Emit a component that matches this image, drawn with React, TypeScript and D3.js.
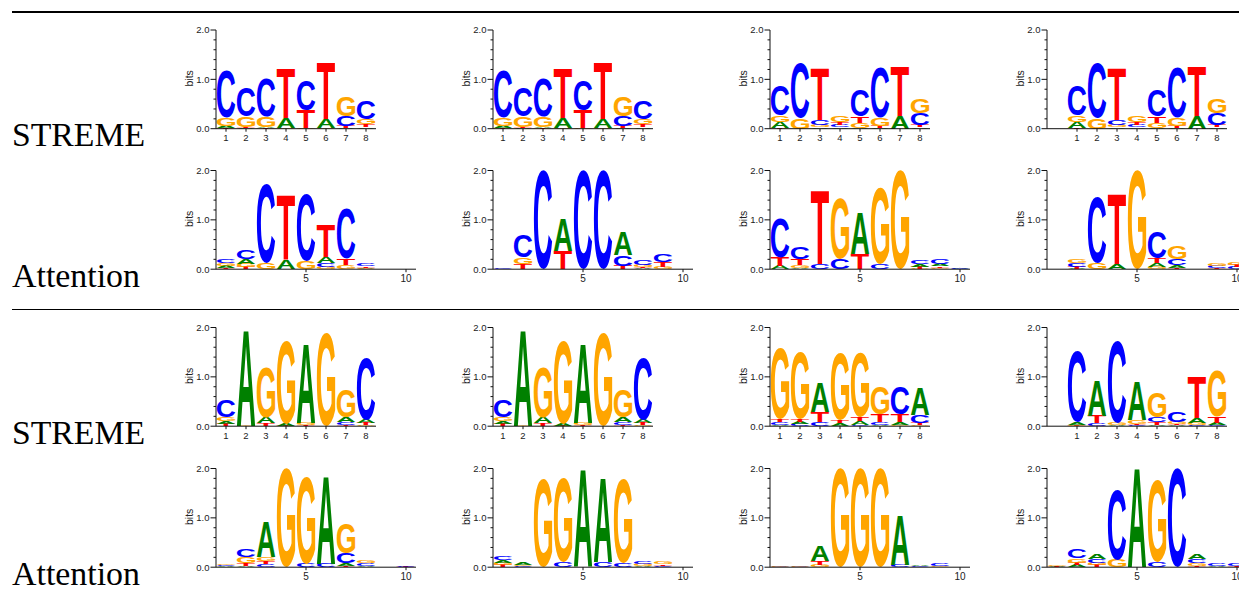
import React, { useMemo } from 'react';
import * as d3 from 'd3';

// Nucleotide order in every row: [A, C, G, T] (bits)
const BASES = ['A', 'C', 'G', 'T'];
const BASE_COLORS = ['#008000', '#0000ff', '#ffa500', '#ff0000'];

const Y_MAJOR = [0, 1, 2];
const Y_MAJOR_LABELS = ['0.0', '1.0', '2.0'];
const Y_MINOR = [0.2, 0.4, 0.6, 0.8, 1.2, 1.4, 1.6, 1.8];
const STREME_TICKS = [1, 2, 3, 4, 5, 6, 7, 8];
const ATTN_TICKS = [5, 10];
const ROW_LABELS = ['STREME', 'Attention', 'STREME', 'Attention'];

// STREME motif 1 (CcCTCTGC)
const streme1 = [
  [0.04, 0.97, 0.17, 0.01],
  [0.01, 0.58, 0.22, 0.02],
  [0.02, 0.77, 0.22, 0.01],
  [0.2, 0.0, 0.02, 0.99],
  [0.0, 0.61, 0.02, 0.36],
  [0.19, 0.0, 0.01, 1.16],
  [0.02, 0.2, 0.41, 0.04],
  [0.03, 0.37, 0.11, 0.06],
];
// STREME motif 2 (cCT.cCTG)
const streme2 = [
  [0.12, 0.6, 0.14, 0.01],
  [0.0, 1.13, 0.22, 0.0],
  [0.03, 0.1, 0.05, 1.04],
  [0.03, 0.04, 0.13, 0.06],
  [0.02, 0.52, 0.1, 0.12],
  [0.01, 1.0, 0.17, 0.05],
  [0.26, 0.0, 0.0, 0.99],
  [0.03, 0.24, 0.29, 0.05],
];
// STREME motif 3 (cAGGAGgC)
const streme3 = [
  [0.06, 0.34, 0.08, 0.04],
  [1.95, 0.0, 0.01, 0.0],
  [0.12, 0.0, 1.01, 0.06],
  [0.04, 0.0, 1.69, 0.01],
  [1.6, 0.0, 0.05, 0.02],
  [0.0, 0.0, 1.9, 0.0],
  [0.1, 0.05, 0.55, 0.03],
  [0.07, 1.26, 0.02, 0.04],
];
// STREME motif 4 (GGaGGgCA)
const streme4 = [
  [0.03, 0.06, 1.45, 0.06],
  [0.05, 0.04, 1.35, 0.06],
  [0.6, 0.08, 0.0, 0.2],
  [0.06, 0.0, 1.35, 0.06],
  [0.08, 0.02, 1.3, 0.08],
  [0.03, 0.05, 0.55, 0.15],
  [0.05, 0.55, 0.03, 0.15],
  [0.55, 0.15, 0.02, 0.05],
];
// STREME motif 5 (CACAGcTG)
const streme5 = [
  [0.05, 1.45, 0.02, 0.01],
  [0.72, 0.05, 0.01, 0.15],
  [0.02, 1.65, 0.05, 0.0],
  [0.8, 0.02, 0.08, 0.02],
  [0.03, 0.1, 0.5, 0.05],
  [0.02, 0.22, 0.05, 0.02],
  [0.1, 0.02, 0.05, 0.83],
  [0.05, 0.02, 0.93, 0.12],
];
// Attention motifs (10 positions)
const attn1 = [
  [0.04, 0.08, 0.05, 0.03],
  [0.09, 0.19, 0.07, 0.04],
  [0.0, 1.6, 0.12, 0.0],
  [0.19, 0.0, 0.0, 1.32],
  [0.0, 1.37, 0.16, 0.0],
  [0.13, 0.07, 0.05, 0.66],
  [0.0, 1.02, 0.09, 0.12],
  [0.01, 0.04, 0.02, 0.03],
  [0, 0, 0, 0],
  [0, 0, 0, 0],
];
const attn2 = [
  [0.0, 0.02, 0.0, 0.0],
  [0.0, 0.44, 0.14, 0.1],
  [0.0, 1.99, 0.0, 0.0],
  [0.66, 0.0, 0.0, 0.37],
  [0.0, 1.99, 0.0, 0.0],
  [0.0, 1.99, 0.0, 0.0],
  [0.46, 0.22, 0.0, 0.07],
  [0.02, 0.1, 0.05, 0.02],
  [0.0, 0.15, 0.05, 0.1],
  [0, 0, 0, 0],
];
const attn3 = [
  [0.07, 0.8, 0.0, 0.17],
  [0.03, 0.25, 0.05, 0.13],
  [0.0, 0.1, 0.0, 1.5],
  [0.0, 0.2, 1.22, 0.0],
  [0.83, 0.0, 0.0, 0.3],
  [0.0, 0.1, 1.56, 0.0],
  [0.0, 0.0, 1.99, 0.0],
  [0.05, 0.07, 0.01, 0.04],
  [0.05, 0.1, 0.03, 0.03],
  [0.01, 0.01, 0.0, 0.0],
];
const attn4 = [
  [0, 0, 0, 0],
  [0.01, 0.07, 0.08, 0.04],
  [0.0, 1.32, 0.13, 0.0],
  [0.1, 0.0, 0.0, 1.43],
  [0.0, 0.0, 1.99, 0.0],
  [0.07, 0.54, 0.05, 0.09],
  [0.05, 0.12, 0.27, 0.03],
  [0, 0, 0, 0],
  [0.0, 0.04, 0.05, 0.02],
  [0.0, 0.04, 0.05, 0.04],
];
const attn5 = [
  [0.02, 0.02, 0.02, 0.0],
  [0.02, 0.15, 0.13, 0.06],
  [0.71, 0.06, 0.09, 0.06],
  [0.0, 0.0, 1.99, 0.0],
  [0.0, 0.07, 1.76, 0.0],
  [1.78, 0.07, 0.0, 0.0],
  [0.05, 0.2, 0.6, 0.03],
  [0.03, 0.05, 0.05, 0.0],
  [0, 0, 0, 0],
  [0.0, 0.02, 0.0, 0.01],
];
const attn6 = [
  [0.06, 0.08, 0.05, 0.04],
  [0.05, 0.02, 0.03, 0.0],
  [0.0, 0.0, 1.8, 0.0],
  [0.0, 0.1, 1.72, 0.0],
  [1.98, 0.0, 0.0, 0.0],
  [1.72, 0.1, 0.0, 0.0],
  [0.0, 0.08, 1.72, 0.0],
  [0.02, 0.06, 0.05, 0.0],
  [0.0, 0.03, 0.05, 0.03],
  [0, 0, 0, 0],
];
const attn7 = [
  [0.0, 0.01, 0.02, 0.0],
  [0.0, 0.01, 0.01, 0.0],
  [0.3, 0.0, 0.05, 0.08],
  [0.0, 0.0, 1.99, 0.0],
  [0.0, 0.0, 1.99, 0.0],
  [0.0, 0.0, 1.99, 0.0],
  [1.0, 0.05, 0.0, 0.0],
  [0.03, 0.02, 0.0, 0.0],
  [0.0, 0.04, 0.02, 0.0],
  [0, 0, 0, 0],
];
const attn8 = [
  [0.02, 0.0, 0.02, 0.01],
  [0.04, 0.19, 0.09, 0.05],
  [0.09, 0.07, 0.05, 0.04],
  [0.0, 1.41, 0.15, 0.0],
  [1.99, 0.0, 0.0, 0.0],
  [0.0, 0.1, 1.66, 0.0],
  [0.0, 1.99, 0.0, 0.0],
  [0.1, 0.09, 0.05, 0.03],
  [0.02, 0.05, 0.0, 0.0],
  [0.0, 0.04, 0.0, 0.02],
];

const GRID = [
  [streme1, streme1, streme2, streme2],
  [attn1, attn2, attn3, attn4],
  [streme3, streme3, streme4, streme5],
  [attn5, attn6, attn7, attn8],
];

// layout
const COL_AXIS_X = [216, 493, 770, 1047];
const ROW_TOP = [30, 170.5, 327.5, 468.5];
const PLOT_H = 98.7;
const STEP = 20;
const LABEL_BASELINE = [146, 287, 443.5, 584.5];
const LETTER_FONT = '"Liberation Sans", Arial, Helvetica, sans-serif';
const AXIS_FONT = '"Liberation Sans", Arial, Helvetica, sans-serif';

type Metric = { left: number; right: number; top: number; bottom: number };

function measureGlyphs(): Record<string, Metric> {
  const fallback: Record<string, Metric> = {
    A: { left: 0, right: 72, top: -72, bottom: 0 },
    C: { left: 4, right: 67, top: -73, bottom: 1 },
    G: { left: 4, right: 73, top: -73, bottom: 1 },
    T: { left: 2, right: 59, top: -72, bottom: 0 },
  };
  try {
    const ctx = document.createElement('canvas').getContext('2d');
    if (!ctx) return fallback;
    ctx.font = `bold 100px ${LETTER_FONT}`;
    const out: Record<string, Metric> = {};
    for (const b of BASES) {
      const t = ctx.measureText(b);
      const m = {
        left: -t.actualBoundingBoxLeft,
        right: t.actualBoundingBoxRight,
        top: -t.actualBoundingBoxAscent,
        bottom: t.actualBoundingBoxDescent,
      };
      if (!(m.right - m.left > 1) || !(m.bottom - m.top > 1)) return fallback;
      out[b] = m;
    }
    return out;
  } catch (e) {
    return fallback;
  }
}

function Logo({ data, ax, top, isStreme, shifted, glyphs }: any) {
  const domain = isStreme ? (shifted ? [-0.5, 8.5] : [0.5, 8.5]) : [0.5, 10.5];
  const x = d3.scaleLinear().domain(domain).range([ax, ax + (domain[1] - domain[0]) * STEP]);
  const y = d3.scaleLinear().domain([0, 2]).range([top + PLOT_H, top]);
  const ticks = isStreme ? STREME_TICKS : ATTN_TICKS;
  const lw = STEP * 0.92;
  const letters: any[] = [];
  data.forEach((row: number[], i: number) => {
    const pos = i + 1;
    const items = row
      .map((h, k) => ({ h, k }))
      .filter((d) => d.h > 0)
      .sort((a, b) => a.h - b.h);
    let acc = 0;
    items.forEach((d) => {
      const y0 = y(acc + d.h);
      const y1 = y(acc);
      acc += d.h;
      const g = glyphs[BASES[d.k]];
      const sx = lw / (g.right - g.left);
      const sy = (y1 - y0) / (g.bottom - g.top);
      letters.push(
        <text
          key={`${pos}-${d.k}`}
          x={0}
          y={0}
          fontSize={100}
          fontWeight="bold"
          fontFamily={LETTER_FONT}
          fill={BASE_COLORS[d.k]}
          transform={`translate(${x(pos) - lw / 2},${y0}) scale(${sx},${sy}) translate(${-g.left},${-g.top})`}
        >
          {BASES[d.k]}
        </text>
      );
    });
  });
  const y0 = y(0);
  return (
    <g>
      {letters}
      {/* y axis */}
      <line x1={ax} x2={ax} y1={y(0)} y2={y(2)} stroke="#111" strokeWidth={1} />
      {Y_MAJOR.map((v, i) => (
        <g key={'M' + v}>
          <line x1={ax - 5.5} x2={ax} y1={y(v)} y2={y(v)} stroke="#111" strokeWidth={1} />
          <text x={ax - 6.5} y={y(v)} dy="0.36em" textAnchor="end" fontSize={9.5} fontFamily={AXIS_FONT} fill="#222">
            {Y_MAJOR_LABELS[i]}
          </text>
        </g>
      ))}
      {Y_MINOR.map((v) => (
        <line key={'m' + v} x1={ax - 2.5} x2={ax} y1={y(v)} y2={y(v)} stroke="#111" strokeWidth={1} />
      ))}
      <text
        transform={`translate(${ax - 23.5},${y(1) - 1}) rotate(-90)`}
        textAnchor="middle"
        fontSize={10.5}
        fontFamily={AXIS_FONT}
        fill="#222"
      >
        bits
      </text>
      {/* x axis */}
      <line x1={ax} x2={x.range()[1]} y1={y0} y2={y0} stroke="#111" strokeWidth={1} />
      {ticks.map((t) => (
        <g key={'x' + t}>
          <line x1={x(t)} x2={x(t)} y1={y0} y2={y0 + 3} stroke="#111" strokeWidth={1} />
          <text x={x(t)} y={y0 + (isStreme ? 12.3 : 13.2)} textAnchor="middle" fontSize={isStreme ? 9.5 : 10} fontFamily={AXIS_FONT} fill="#222">
            {t}
          </text>
        </g>
      ))}
    </g>
  );
}

export default function App() {
  const glyphs = useMemo(() => measureGlyphs(), []);
  return (
    <svg
      width={1239}
      height={600}
      style={{ position: 'absolute', left: 0, top: 0, background: '#fff' }}
    >
      <rect x={0} y={0} width={1239} height={600} fill="#fff" />
      <line x1={12} x2={1239} y1={12} y2={12} stroke="#000" strokeWidth={2} />
      <line x1={12} x2={1239} y1={309.5} y2={309.5} stroke="#000" strokeWidth={1} />
      {ROW_LABELS.map((lab, r) => (
        <text
          key={'lab' + r}
          x={12}
          y={LABEL_BASELINE[r]}
          fontSize={33.5}
          fontFamily='"Liberation Serif", "Times New Roman", serif'
          textLength={lab === 'STREME' ? 133 : 128}
          lengthAdjust="spacingAndGlyphs"
          fill="#000"
        >
          {lab}
        </text>
      ))}
      {GRID.map((row, r) =>
        row.map((data, c) => (
          <Logo
            key={`${r}-${c}`}
            data={data}
            ax={COL_AXIS_X[c]}
            top={ROW_TOP[r]}
            isStreme={r % 2 === 0}
            shifted={c === 3}
            glyphs={glyphs}
          />
        ))
      )}
    </svg>
  );
}
